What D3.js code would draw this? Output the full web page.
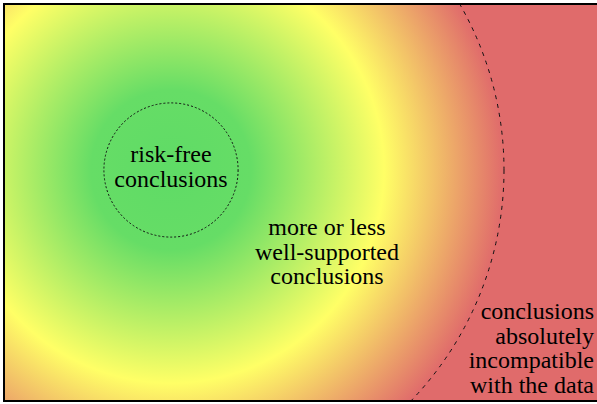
<!DOCTYPE html>
<html><head><meta charset="utf-8">
<script src="https://cdn.jsdelivr.net/npm/d3@7"></script>
<style>html,body{margin:0;padding:0;background:#fff;}svg{display:block;}
text{font-family:"Liberation Serif","Times New Roman",Times,serif;}</style>
</head><body>
<script>
// Diagram data
const gradientStops = [
  {offset: 0.0,  color: "#5fdb66"},
  {offset: 0.24, color: "#66dd66"},
  {offset: 0.64, color: "#ffff66"},
  {offset: 1.0,  color: "#e06b6b"}
];
const innerLabel = ["risk-free", "conclusions"];
const middleLabel = ["more or less", "well-supported", "conclusions"];
const outerLabel = ["conclusions", "absolutely", "incompatible", "with the data"];
// radii in abstract units (outer boundary = 1)
const innerRadius = 0.2;
const outerRadius = 1.0;

const W = 597, H = 404;
const cx = 171, cy = 170;
const r = d3.scaleLinear().domain([0, 1]).range([0, 333]);

const svg = d3.select("body").append("svg").attr("width", W).attr("height", H);
const defs = svg.append("defs");
const grad = defs.append("radialGradient").attr("id", "g")
  .attr("gradientUnits", "userSpaceOnUse")
  .attr("cx", cx).attr("cy", cy).attr("r", r(outerRadius))
  .attr("fx", cx).attr("fy", cy);
grad.selectAll("stop").data(gradientStops).join("stop")
  .attr("offset", d => d.offset).attr("stop-color", d => d.color);

defs.append("clipPath").attr("id", "clip").append("rect")
  .attr("x", 4).attr("y", 4).attr("width", 600).attr("height", 397);

svg.append("rect").attr("x", 4).attr("y", 4).attr("width", 600).attr("height", 397)
  .attr("fill", "url(#g)");

const g = svg.append("g").attr("clip-path", "url(#clip)");
g.append("circle").attr("cx", cx).attr("cy", cy).attr("r", r(innerRadius) + 0.5)
  .attr("fill", "none").attr("stroke", "#111").attr("stroke-width", 1)
  .attr("stroke-dasharray", "2,2");
g.append("circle").attr("cx", cx).attr("cy", cy).attr("r", r(outerRadius))
  .attr("fill", "none").attr("stroke", "#111").attr("stroke-width", 1)
  .attr("stroke-dasharray", "4,5");

svg.append("rect").attr("x", 4).attr("y", 4).attr("width", 600).attr("height", 397)
  .attr("fill", "none").attr("stroke", "#000").attr("stroke-width", 2);

function label(lines, x, y0, anchor) {
  svg.append("text")
    .attr("font-size", 24).attr("fill", "#000").attr("text-anchor", anchor)
    .selectAll("tspan").data(lines).join("tspan")
    .attr("x", x).attr("y", (d, i) => y0 + i * 24.5).text(d => d);
}
label(innerLabel, cx, 162, "middle");
label(middleLabel, 327, 235, "middle");
label(outerLabel, 594, 319, "end");
</script>
</body></html>
